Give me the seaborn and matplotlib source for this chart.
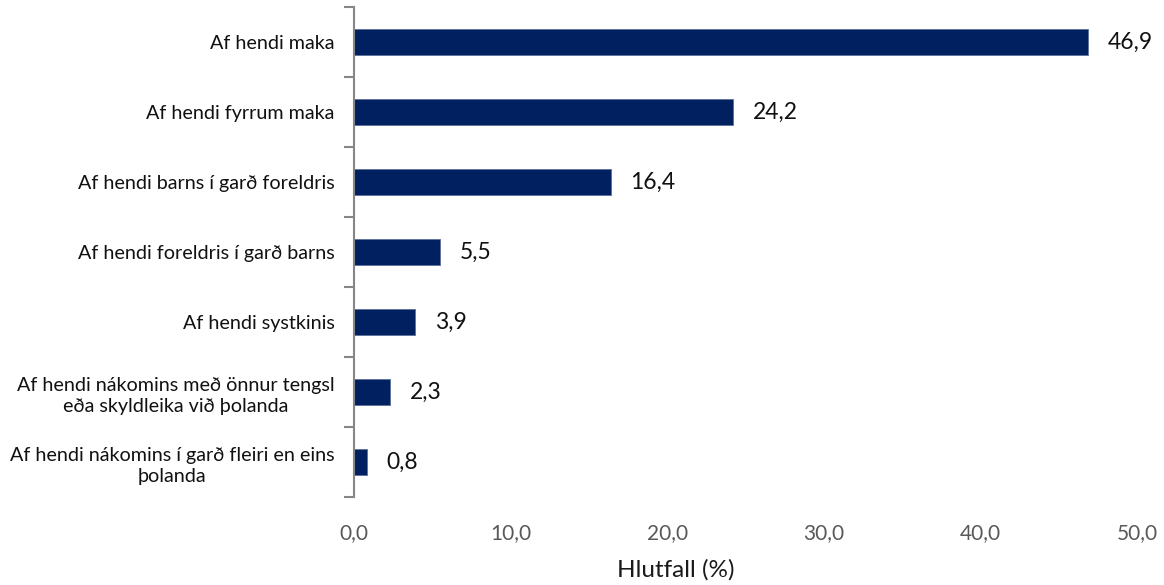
import matplotlib
matplotlib.use("Agg")
import matplotlib.pyplot as plt
import seaborn as sns
import pandas as pd
from matplotlib.ticker import FixedLocator

categories = [
    "Af hendi maka",
    "Af hendi fyrrum maka",
    "Af hendi barns í garð foreldris",
    "Af hendi foreldris í garð barns",
    "Af hendi systkinis",
    "Af hendi nákomins með önnur tengsl\neða skyldleika við þolanda",
    "Af hendi nákomins í garð fleiri en eins\nþolanda",
]
values = [46.9, 24.2, 16.4, 5.5, 3.9, 2.3, 0.8]
x_ticks = [0, 10, 20, 30, 40, 50]
x_label = "Hlutfall (%)"

sns.set_theme(style="white")
plt.rcParams['font.family'] = ['Lato', 'DejaVu Sans']

df = pd.DataFrame({"cat": categories, "val": values})

fig = plt.figure(figsize=(11.64, 5.85), dpi=100)
ax = fig.add_axes([354/1164, 1 - 497/585, (1137 - 354)/1164, (497 - 7)/585])

sns.barplot(data=df, x="val", y="cat", orient="h", color="#002060",
            width=0.36, saturation=1, ax=ax, edgecolor="#5a6f9a", linewidth=0.6)

ax.set_xlim(0, 50)
ax.set_ylim(len(categories) - 0.5, -0.5)
ax.set_xticks(x_ticks)
ax.set_xticklabels([f"{t:.1f}".replace(".", ",") for t in x_ticks],
                   fontsize=15, color="#595959")
ax.tick_params(axis="x", length=0, pad=19)
ax.set_xlabel("")
fig.text(676/1164, 1 - 570/585, x_label, fontsize=17.5, color="#1a1a1a",
         ha="center", va="center")
ax.set_ylabel("")

ax.tick_params(axis="y", which="major", length=0, pad=14, labelsize=14.2, labelcolor="#111111")
for lbl in ax.get_yticklabels():
    lbl.set_multialignment("center")
    lbl.set_linespacing(1.35)
ax.yaxis.set_minor_locator(FixedLocator([i - 0.5 for i in range(len(categories) + 1)]))
ax.tick_params(axis="y", which="minor", length=7, width=1.5, color="#868686", left=True)

for s in ["top", "right", "bottom"]:
    ax.spines[s].set_visible(False)
ax.spines["left"].set_color("#868686")
ax.spines["left"].set_linewidth(1.5)

for container in ax.containers:
    ax.bar_label(container, labels=[f"{v:.1f}".replace(".", ",") for v in values],
                 padding=14, fontsize=16.5, color="#111111")

fig.savefig("out.png", dpi=100)
